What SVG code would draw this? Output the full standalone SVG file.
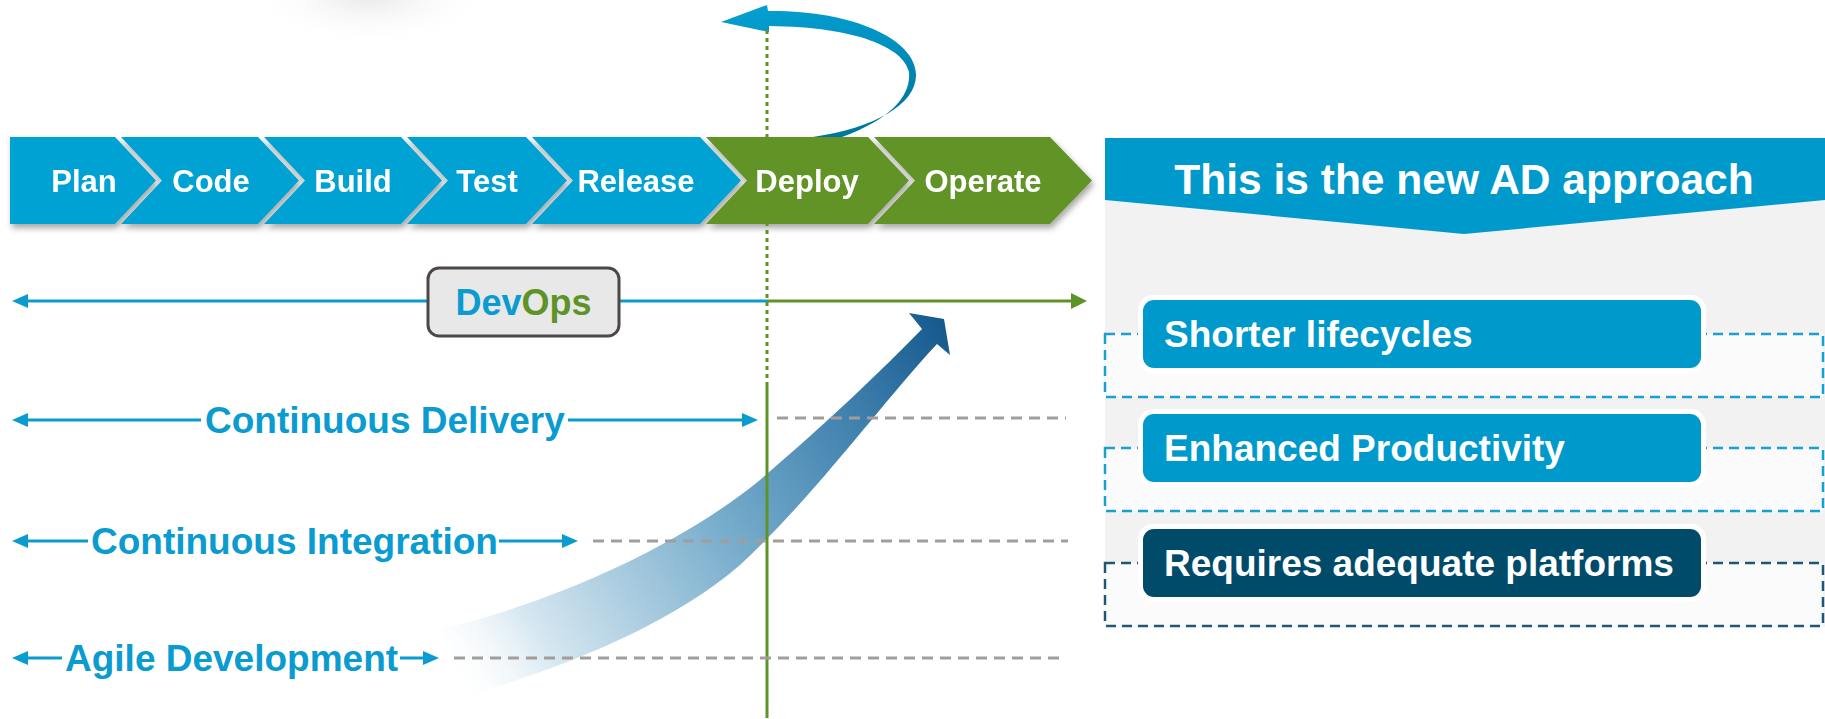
<svg xmlns="http://www.w3.org/2000/svg" width="1825" height="719" viewBox="0 0 1825 719">
<style>
text{font-family:"Liberation Sans",Arial,sans-serif;font-weight:bold}
.chevB{fill:#00a2d3}
.chevG{fill:#629326}
.ct{fill:#fff;font-size:31px;text-anchor:middle}
.lbl{fill:#0a9bd0;font-size:37px}
.bl{stroke:#0a9bd0;stroke-width:3;fill:none}
.gl{stroke:#5e9328;stroke-width:3;fill:none}
.gd{stroke:#a39d99;stroke-width:3;stroke-dasharray:11 7;fill:none}
.pt{fill:#fff;font-size:37px}
.halo{fill:#fff}
</style>
<defs>
<filter id="sh" x="-10%" y="-20%" width="120%" height="160%">
<feDropShadow dx="2" dy="4" stdDeviation="3" flood-color="#000" flood-opacity="0.35"/>
</filter>
<radialGradient id="blob" cx="0.5" cy="0.5" r="0.5">
<stop offset="0" stop-color="#d0d0d0" stop-opacity="0.5"/>
<stop offset="1" stop-color="#ffffff" stop-opacity="0"/>
</radialGradient>
<linearGradient id="arc" x1="0" y1="0" x2="0.3" y2="1">
<stop offset="0" stop-color="#04a0d2"/>
<stop offset="0.5" stop-color="#0092c2"/>
<stop offset="1" stop-color="#00779e"/>
</linearGradient>
<linearGradient id="big" gradientUnits="userSpaceOnUse" x1="450" y1="665" x2="945" y2="330">
<stop offset="0" stop-color="#ffffff" stop-opacity="0.3"/>
<stop offset="0.15" stop-color="#d6e7f1"/>
<stop offset="0.5" stop-color="#79aecd"/>
<stop offset="0.8" stop-color="#3e7fad"/>
<stop offset="1" stop-color="#175a8e"/>
</linearGradient>
</defs>
<rect width="1825" height="719" fill="#fff"/>
<ellipse cx="370" cy="-5" rx="120" ry="50" fill="url(#blob)"/>

<g id="cycle-arrow">
<path d="M721,22 L767,5 L768,11 C850,10 915,38 916,74 C917,104 875,128 813,137 L842,137 C893,118 911,95 909,72 C904,48 858,27 769,26 L769,32 Z" fill="url(#arc)"/>
</g>

<g id="pipeline" filter="url(#sh)">
<g id="plan"><polygon class="chevB" points="10,137 115,137 156,180.5 115,224 10,224"/><text class="ct" x="84" y="191.5">Plan</text></g>
<g id="code"><polygon class="chevB" points="121,137 258,137 299,180.5 258,224 121,224 162,180.5"/><text class="ct" x="211" y="191.5">Code</text></g>
<g id="build"><polygon class="chevB" points="264,137 401,137 442,180.5 401,224 264,224 305,180.5"/><text class="ct" x="353" y="191.5">Build</text></g>
<g id="test"><polygon class="chevB" points="407,137 526,137 567,180.5 526,224 407,224 448,180.5"/><text class="ct" x="487" y="191.5">Test</text></g>
<g id="release"><polygon class="chevB" points="532,137 700,137 741,180.5 700,224 532,224 573,180.5"/><text class="ct" x="636" y="191.5">Release</text></g>
<g id="deploy"><polygon class="chevG" points="706,137 868,137 909,180.5 868,224 706,224 747,180.5"/><text class="ct" x="807" y="191.5">Deploy</text></g>
<g id="operate"><polygon class="chevG" points="874,137 1050,137 1092,180.5 1050,224 874,224 915,180.5"/><text class="ct" x="983" y="191.5">Operate</text></g>
</g>

<g id="growth-arrow">
<path d="M442,629 C560,600 680,545 760,480 C830,420 880,372 922,329 L909,313 L944,319 L950,355 L937,344 C880,405 820,490 740,565 C670,625 570,665 470,695 Z" fill="url(#big)"/>
</g>

<g id="connectors">
<line x1="767" y1="30" x2="767" y2="383" stroke="#5e9328" stroke-width="3" stroke-dasharray="4 4"/>
<line class="gl" x1="767" y1="383" x2="767" y2="718"/>
<line class="gd" x1="777" y1="418" x2="1066" y2="418"/>
<line class="gd" x1="593" y1="541" x2="1068" y2="541"/>
<line class="gd" x1="454" y1="658" x2="1063" y2="658"/>
<line class="bl" x1="26" y1="301" x2="767" y2="301"/>
<line class="gl" x1="767" y1="301" x2="1073" y2="301"/>
<polygon points="12,301 28,294 28,308" fill="#0a9bd0"/>
<polygon points="1087,301 1071,293 1071,309" fill="#5e9328"/>
<line class="bl" x1="26" y1="420" x2="201" y2="420"/>
<line class="bl" x1="568" y1="420" x2="744" y2="420"/>
<polygon points="12,420 28,413 28,427" fill="#0a9bd0"/>
<polygon points="758,420 742,413 742,427" fill="#0a9bd0"/>
<line class="bl" x1="26" y1="541" x2="88" y2="541"/>
<line class="bl" x1="499" y1="541" x2="564" y2="541"/>
<polygon points="12,541 28,534 28,548" fill="#0a9bd0"/>
<polygon points="578,541 562,534 562,548" fill="#0a9bd0"/>
<line class="bl" x1="26" y1="658" x2="62" y2="658"/>
<line class="bl" x1="400" y1="658" x2="425" y2="658"/>
<polygon points="12,658 28,651 28,665" fill="#0a9bd0"/>
<polygon points="439,658 423,651 423,665" fill="#0a9bd0"/>
</g>

<g id="devops">
<rect x="428" y="268" width="191" height="68" rx="11" fill="#e8e8e8" stroke="#4d4846" stroke-width="3"/>
<text x="523.5" y="315" font-size="36" text-anchor="middle"><tspan fill="#0a9bd0">Dev</tspan><tspan fill="#5e9328">Ops</tspan></text>
</g>
<g id="continuous-delivery"><text class="lbl" x="205" y="433">Continuous Delivery</text></g>
<g id="continuous-integration"><text class="lbl" x="91" y="554">Continuous Integration</text></g>
<g id="agile-development"><text class="lbl" x="65" y="671">Agile Development</text></g>

<g id="panel">
<rect x="1105" y="138" width="720" height="489" fill="#f2f2f2"/>
<rect x="1105" y="334" width="718" height="63" fill="#fbfbfb" stroke="#1aa0d0" stroke-width="2.5" stroke-dasharray="10 6"/>
<rect x="1105" y="448" width="718" height="63" fill="#fbfbfb" stroke="#1aa0d0" stroke-width="2.5" stroke-dasharray="10 6"/>
<rect x="1105" y="563" width="718" height="63" fill="#fbfbfb" stroke="#1d5877" stroke-width="2.5" stroke-dasharray="10 6"/>
</g>
<g id="header">
<polygon points="1105,138 1825,138 1825,200 1464,234 1105,200" fill="#0099cc"/>
<text x="1464" y="194" font-size="42.5" fill="#fff" text-anchor="middle">This is the new AD approach</text>
</g>
<g id="shorter-lifecycles">
<rect class="halo" x="1138" y="295" width="568" height="78" rx="15"/>
<rect x="1143" y="300" width="558" height="68" rx="11" fill="#0099cc"/>
<text class="pt" x="1164" y="347">Shorter lifecycles</text>
</g>
<g id="enhanced-productivity">
<rect class="halo" x="1138" y="409" width="568" height="78" rx="15"/>
<rect x="1143" y="414" width="558" height="68" rx="11" fill="#0099cc"/>
<text class="pt" x="1164" y="461">Enhanced Productivity</text>
</g>
<g id="requires-platforms">
<rect class="halo" x="1138" y="524" width="568" height="78" rx="15"/>
<rect x="1143" y="529" width="558" height="68" rx="11" fill="#004a6a"/>
<text class="pt" x="1164" y="576">Requires adequate platforms</text>
</g>
</svg>
